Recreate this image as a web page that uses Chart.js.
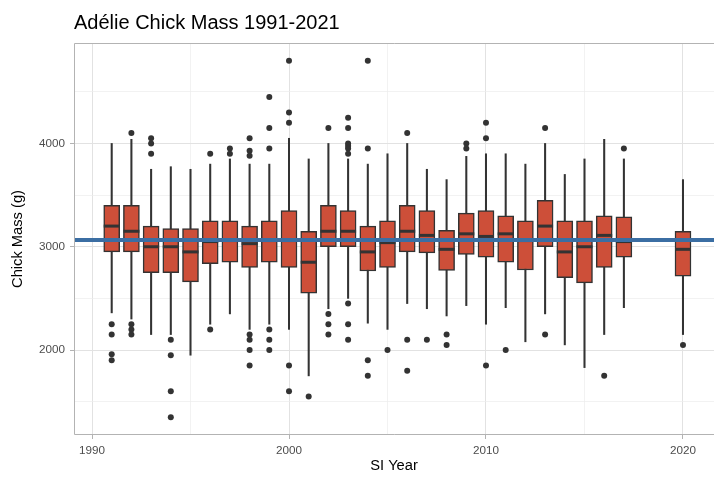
<!DOCTYPE html>
<html>
<head>
<meta charset="utf-8">
<title>Adélie Chick Mass</title>
<script src="https://cdn.jsdelivr.net/npm/chart.js@4.4.1/dist/chart.umd.min.js"></script>
<style>
    html, body { margin: 0; padding: 0; background: #fff; overflow: hidden; }
    #wrap { width: 714px; height: 480px; }
</style>
</head>
<body>
<div id="wrap"><canvas id="massChart" width="714" height="480"></canvas></div>
<script>
// 标题与坐标轴
var chartTitle = "Adélie Chick Mass 1991-2021";
var xTitle = "SI Year";
var yTitle = "Chick Mass (g)";

// 每年的箱线图统计量 (g)
var years        = [1991, 1992, 1993, 1994, 1995, 1996, 1997, 1998, 1999, 2000, 2001, 2002, 2003, 2004, 2005, 2006, 2007, 2008, 2009, 2010, 2011, 2012, 2013, 2014, 2015, 2016, 2017, 2020];
var whiskerLow   = [2360, 2300, 2150, 2150, 1950, 2250, 2350, 2200, 2250, 2200, 1750, 2400, 2500, 2260, 2200, 2450, 2400, 2330, 2430, 2250, 2410, 2080, 2350, 2050, 1830, 2150, 2410, 2150];
var q1           = [2950, 2950, 2750, 2750, 2660, 2835, 2850, 2800, 2850, 2800, 2550, 3000, 3000, 2765, 2800, 2950, 2940, 2770, 2925, 2900, 2850, 2775, 3000, 2700, 2650, 2800, 2900, 2715];
var medianMass   = [3200, 3150, 3000, 3000, 2950, 3050, 3060, 3030, 3060, 3060, 2850, 3150, 3150, 2950, 3040, 3150, 3110, 2975, 3125, 3100, 3125, 3060, 3200, 2950, 3000, 3110, 3050, 2975];
var q3           = [3400, 3400, 3200, 3175, 3175, 3250, 3250, 3200, 3250, 3350, 3150, 3400, 3350, 3200, 3250, 3400, 3350, 3160, 3325, 3350, 3300, 3250, 3450, 3250, 3250, 3300, 3290, 3150];
var whiskerHigh  = [4000, 4040, 3750, 3775, 3750, 3800, 3850, 3800, 3800, 4050, 3850, 4000, 3850, 3800, 3900, 4000, 3750, 3650, 3875, 3900, 3900, 3800, 4000, 3700, 3850, 4040, 3850, 3650];

// 离群点
var outlierYears = [1991, 1991, 1991, 1991,
                    1992, 1992, 1992, 1992,
                    1993, 1993, 1993,
                    1994, 1994, 1994, 1994,
                    1996, 1996,
                    1997, 1997,
                    1998, 1998, 1998, 1998, 1998, 1998, 1998,
                    1999, 1999, 1999, 1999, 1999, 1999,
                    2000, 2000, 2000, 2000, 2000,
                    2001,
                    2002, 2002, 2002, 2002,
                    2003, 2003, 2003, 2003, 2003, 2003, 2003, 2003, 2003,
                    2004, 2004, 2004, 2004,
                    2005,
                    2006, 2006, 2006,
                    2007,
                    2008, 2008,
                    2009, 2009,
                    2010, 2010, 2010,
                    2011,
                    2013, 2013,
                    2016,
                    2017,
                    2020];
var outlierMass  = [2250, 2150, 1960, 1900,
                    4100, 2250, 2200, 2150,
                    4050, 4000, 3900,
                    2100, 1950, 1600, 1350,
                    3900, 2200,
                    3950, 3900,
                    4050, 3930, 3880, 2150, 2100, 2000, 1850,
                    4450, 4150, 3950, 2200, 2100, 2000,
                    4800, 4300, 4200, 1850, 1600,
                    1550,
                    4150, 2350, 2250, 2150,
                    4250, 4150, 4000, 3975, 3950, 3900, 2450, 2250, 2100,
                    4800, 3950, 1900, 1750,
                    2000,
                    4100, 2100, 1800,
                    2100,
                    2150, 2050,
                    4000, 3950,
                    4200, 4050, 1850,
                    2000,
                    4150, 2150,
                    1750,
                    3950,
                    2050];

// 全部年份的平均体重
var meanMass = 3065;

// 坐标轴范围与刻度 (主刻度带文字, 次刻度只画网格线)
var xRange = [1989.086, 2021.574];
var yRange = [1177.5, 4972.5];
var xTicks = [1990, 1995, 2000, 2005, 2010, 2015, 2020];
var xLabelTicks = [1990, 2000, 2010, 2020];
var yTicks = [1500, 2000, 2500, 3000, 3500, 4000, 4500];
var yLabelTicks = [2000, 3000, 4000];

var boxFill = "#cd4f39";
var darkLine = "#333333";
var meanColor = "#3b6ea3";
var gridMajor = "#e2e2e2";
var gridMinor = "#ececec";
var frameColor = "#b3b3b3";
var fontFamily = '"Liberation Sans", Arial, Helvetica, sans-serif';

var massChart;

// 标题和面板边框 (面板右侧在画布之外, 不画右边框)
var framePlugin = {
    id: 'frame',
    afterDatasetsDraw: function(chart) {
        const a = chart.chartArea;
        const ctx = chart.ctx;
        const l = Math.round(a.left) + 0.5;
        const t = Math.round(a.top) + 0.5;
        const b = Math.round(a.bottom) - 0.5;
        ctx.save();
        ctx.strokeStyle = frameColor;
        ctx.lineWidth = 1;
        ctx.beginPath();
        ctx.moveTo(chart.width, t);
        ctx.lineTo(l, t);
        ctx.lineTo(l, b);
        ctx.lineTo(chart.width, b);
        ctx.stroke();
        ctx.restore();
    },
    afterDraw: function(chart) {
        const ctx = chart.ctx;
        ctx.save();
        ctx.font = '20px ' + fontFamily;
        ctx.fillStyle = "#000";
        ctx.textAlign = "left";
        ctx.textBaseline = "alphabetic";
        ctx.fillText(chartTitle, chart.chartArea.left, 29);
        ctx.restore();
    }
};

function hasLabel(ctx, list) {
    if (!ctx || !ctx.tick) return true;
    return list.indexOf(ctx.tick.value) >= 0;
}

function initChart() {
    const canvas = document.getElementById('massChart');

    const boxData = years.map((y, i) => ({ x: y, y: [q1[i], q3[i]] }));
    const whiskerData = years.map((y, i) => ({ x: y, y: [whiskerLow[i], whiskerHigh[i]] }));
    const medianData = years.map((y, i) => ({ x: y, y: medianMass[i] }));
    const outlierData = outlierYears.map((y, i) => ({ x: y, y: outlierMass[i] }));
    const meanData = [{ x: xRange[0], y: meanMass }, { x: xRange[1], y: meanMass }];

    const config = {
        type: 'bar',
        data: {
            datasets: [{
                type: 'line',
                data: meanData,
                borderColor: meanColor,
                borderWidth: 4,
                pointRadius: 0,
                order: 0
            }, {
                type: 'scatter',
                data: outlierData,
                backgroundColor: darkLine,
                borderColor: darkLine,
                borderWidth: 0,
                pointRadius: 3,
                order: 1
            }, {
                type: 'scatter',
                data: medianData,
                pointStyle: 'line',
                pointRadius: 8,
                borderColor: darkLine,
                borderWidth: 3,
                order: 2
            }, {
                type: 'bar',
                data: boxData,
                grouped: false,
                barThickness: 16,
                backgroundColor: boxFill,
                borderColor: darkLine,
                borderWidth: 1.5,
                borderSkipped: false,
                order: 3
            }, {
                type: 'bar',
                data: whiskerData,
                grouped: false,
                barThickness: 1.4,
                backgroundColor: darkLine,
                borderWidth: 0,
                order: 4
            }]
        },
        options: {
            responsive: false,
            animation: false,
            events: [],
            layout: {
                autoPadding: false,
                padding: { top: 43, right: 0, bottom: 0, left: 0 }
            },
            plugins: {
                legend: { display: false },
                tooltip: { enabled: false },
                title: { display: false }
            },
            scales: {
                x: {
                    type: 'linear',
                    offset: false,
                    min: xRange[0],
                    max: xRange[1],
                    afterBuildTicks: function(scale) { scale.ticks = xTicks.map(v => ({ value: v })); },
                    afterFit: function(scale) {
                        scale.height = 45;
                        scale.paddingLeft = 0;
                        scale.paddingRight = 0;
                    },
                    border: { display: false },
                    grid: {
                        offset: false,
                        color: ctx => hasLabel(ctx, xLabelTicks) ? gridMajor : gridMinor,
                        tickColor: ctx => hasLabel(ctx, xLabelTicks) ? frameColor : 'rgba(0,0,0,0)',
                        lineWidth: ctx => hasLabel(ctx, xLabelTicks) ? 1 : 0.7,
                        tickLength: 4
                    },
                    ticks: {
                        autoSkip: false,
                        maxRotation: 0,
                        padding: 5,
                        color: '#4d4d4d',
                        font: { family: fontFamily, size: 11.7 },
                        callback: v => xLabelTicks.indexOf(v) >= 0 ? String(v) : ''
                    },
                    title: {
                        display: true,
                        text: xTitle,
                        color: '#000',
                        font: { family: fontFamily, size: 14.7 },
                        padding: { top: 0, bottom: 5 }
                    }
                },
                y: {
                    type: 'linear',
                    min: yRange[0],
                    max: yRange[1],
                    afterBuildTicks: function(scale) { scale.ticks = yTicks.map(v => ({ value: v })); },
                    afterFit: function(scale) {
                        scale.width = 74;
                        scale.paddingTop = 0;
                        scale.paddingBottom = 0;
                    },
                    border: { display: false },
                    grid: {
                        color: ctx => hasLabel(ctx, yLabelTicks) ? gridMajor : gridMinor,
                        tickColor: ctx => hasLabel(ctx, yLabelTicks) ? frameColor : 'rgba(0,0,0,0)',
                        lineWidth: ctx => hasLabel(ctx, yLabelTicks) ? 1 : 0.7,
                        tickLength: 4
                    },
                    ticks: {
                        autoSkip: false,
                        padding: 5,
                        color: '#4d4d4d',
                        font: { family: fontFamily, size: 11.7 },
                        callback: v => yLabelTicks.indexOf(v) >= 0 ? String(v) : ''
                    },
                    title: {
                        display: true,
                        text: yTitle,
                        color: '#000',
                        font: { family: fontFamily, size: 14.7 },
                        padding: { top: 9, bottom: 0 }
                    }
                }
            }
        },
        plugins: [framePlugin]
    };
    massChart = new Chart(canvas, config);
}

initChart();
</script>
</body>
</html>
